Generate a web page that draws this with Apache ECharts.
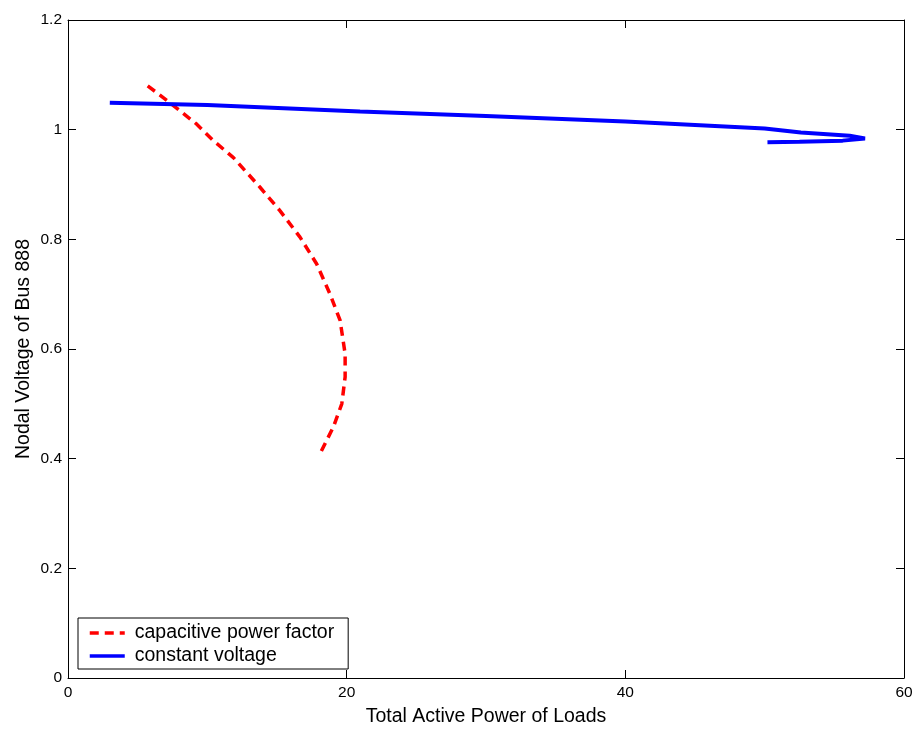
<!DOCTYPE html>
<html>
<head>
<meta charset="utf-8">
<script src="https://cdn.jsdelivr.net/npm/echarts@6/dist/echarts.min.js"></script>
<style>
  html, body { margin: 0; padding: 0; background: #fff; }
  #chart { width: 915px; height: 729px; }
</style>
</head>
<body>
<div id="chart"></div>
<script>
// Capacitive power factor: P-V curve of bus 888
const capX = [5.72, 7.32, 9.24, 10.43, 11.87, 13.78, 15.22, 16.65, 17.85, 18.81, 19.53, 19.89, 19.89, 19.65, 19.05, 18.09];
const capY = [1.080, 1.049, 1.010, 0.980, 0.949, 0.895, 0.852, 0.804, 0.755, 0.700, 0.652, 0.591, 0.549, 0.500, 0.458, 0.409];

// Constant voltage control: P-V curve of bus 888
const cvX = [3.0, 10.0, 20.96, 30.0, 40.0, 45.36, 50.0, 52.6, 56.1, 57.2, 55.6, 52.5, 50.2];
const cvY = [1.049, 1.045, 1.033, 1.025, 1.015, 1.008, 1.002, 0.995, 0.989, 0.984, 0.980, 0.978, 0.977];

const xTicks = [0, 20, 40, 60];
const yTicks = [0, 0.2, 0.4, 0.6, 0.8, 1, 1.2];

const pairs = (xs, ys) => xs.map((x, i) => [x, ys[i]]);

const chart = echarts.init(document.getElementById('chart'));
const font = 'Liberation Sans, Arial, sans-serif';

function axisBase() {
  return {
    type: 'value',
    axisLine: { show: true, onZero: false, lineStyle: { color: '#000', width: 1 } },
    axisTick: { show: true, inside: true, length: 8, lineStyle: { color: '#000' } },
    splitLine: { show: false }
  };
}

chart.setOption({
  backgroundColor: '#fff',
  animation: false,
  grid: { left: 68, right: 11, top: 20, bottom: 51, outerBoundsMode: 'none', containLabel: false },
  xAxis: [
    Object.assign(axisBase(), {
      min: xTicks[0], max: xTicks[xTicks.length - 1], interval: 20,
      position: 'bottom',
      name: 'Total Active Power of Loads',
      nameLocation: 'middle', nameGap: 29,
      nameTextStyle: { fontFamily: font, fontSize: 19.5, color: '#000' },
      axisLabel: { fontFamily: font, fontSize: 15.5, color: '#000', margin: 7 }
    }),
    Object.assign(axisBase(), {
      min: xTicks[0], max: xTicks[xTicks.length - 1], interval: 20,
      position: 'top', axisLabel: { show: false }
    })
  ],
  yAxis: [
    Object.assign(axisBase(), {
      min: yTicks[0], max: yTicks[yTicks.length - 1], interval: 0.2,
      position: 'left',
      name: 'Nodal Voltage of Bus 888',
      nameLocation: 'middle', nameGap: 34, nameMoveOverlap: false,
      nameTextStyle: { fontFamily: font, fontSize: 19.5, color: '#000' },
      axisLabel: { fontFamily: font, fontSize: 15.5, color: '#000', margin: 6 }
    }),
    Object.assign(axisBase(), {
      min: yTicks[0], max: yTicks[yTicks.length - 1], interval: 0.2,
      position: 'right', axisLabel: { show: false }
    })
  ],
  legend: {
    left: 78, top: 618,
    orient: 'vertical',
    backgroundColor: '#fff',
    borderColor: '#000', borderWidth: 1, borderRadius: 0,
    padding: [5, 14, 3, 10],
    itemGap: 3,
    itemWidth: 35, itemHeight: 19,
    itemStyle: { opacity: 0 },
    lineStyle: { width: 3.5 },
    textStyle: { fontFamily: font, fontSize: 19.5, color: '#000', padding: [0, 0, 0, 5] },
    data: ['capacitive power factor', 'constant voltage']
  },
  series: [
    {
      name: 'capacitive power factor',
      type: 'line',
      data: pairs(capX, capY),
      showSymbol: false, symbol: 'none',
      smooth: false,
      lineStyle: { color: '#ff0000', width: 3.5, type: [9, 6] },
      itemStyle: { color: '#ff0000' }
    },
    {
      name: 'constant voltage',
      type: 'line',
      data: pairs(cvX, cvY),
      showSymbol: false, symbol: 'none',
      smooth: false,
      lineStyle: { color: '#0000ff', width: 4 },
      itemStyle: { color: '#0000ff' }
    }
  ]
});
</script>
</body>
</html>
